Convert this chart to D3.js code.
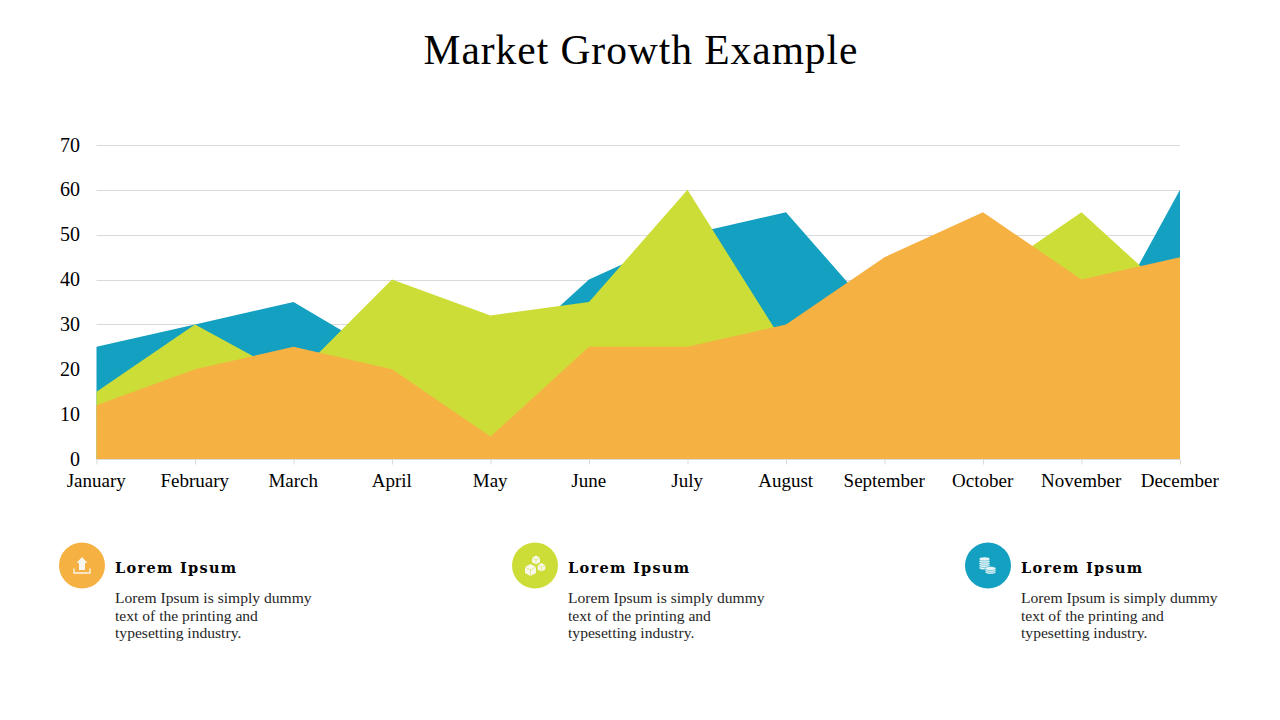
<!DOCTYPE html>
<html>
<head>
<meta charset="utf-8">
<script src="https://cdn.jsdelivr.net/npm/d3@7"></script>
<style>
  html, body { margin: 0; background: #fff; }
  text { font-family: "Liberation Serif", serif; }
</style>
</head>
<body>
<div id="chart"></div>
<script>
const months = ['January', 'February', 'March', 'April', 'May', 'June', 'July', 'August', 'September', 'October', 'November', 'December']
const blueValues = [25, 30, 35, 22, 20, 40, 50, 55, 30, 25, 20, 60]
const greenValues = [15, 30, 18, 40, 32, 35, 60, 25, 30, 40, 55, 35]
const orangeValues = [12, 20, 25, 20, 5, 25, 25, 30, 45, 55, 40, 45]
const yTicks = [0, 10, 20, 30, 40, 50, 60, 70]
const noteTitles = ['Lorem Ipsum', 'Lorem Ipsum', 'Lorem Ipsum']
const noteLines = ['Lorem Ipsum is simply dummy', 'text of the printing and', 'typesetting industry.']

const BLUE = '#14a0c1'
const GREEN = '#cddd38'
const ORANGE = '#f5b142'

const svg = d3.select('#chart').append('svg')
  .attr('width', 1280)
  .attr('height', 720)
  .style('display', 'block')

svg.append('text')
  .attr('x', 641)
  .attr('y', 64)
  .attr('text-anchor', 'middle')
  .attr('font-size', 41.5)
  .attr('letter-spacing', 0.95)
  .attr('fill', '#000')
  .text('Market Growth Example')

const x = d3.scalePoint().domain(months).range([96.5, 1180])
const y = d3.scaleLinear().domain([0, 70]).range([459, 145])

// gridlines
svg.append('g').selectAll('line')
  .data(yTicks)
  .join('line')
  .attr('x1', x.range()[0])
  .attr('x2', x.range()[1])
  .attr('y1', d => Math.round(y(d)) + 0.5)
  .attr('y2', d => Math.round(y(d)) + 0.5)
  .attr('stroke', '#d9d9d9')
  .attr('stroke-width', 1)

const area = d3.area()
  .x((d, i) => x(months[i]))
  .y0(y(0))
  .y1(d => y(d))

// back to front
;[[blueValues, BLUE], [greenValues, GREEN], [orangeValues, ORANGE]].forEach(([values, color]) => {
  svg.append('path').datum(values).attr('d', area).attr('fill', color)
})

const xAxis = svg.append('g')
  .attr('transform', `translate(0,${y(0) + 0.5})`)
  .call(d3.axisBottom(x).tickSize(5).tickPadding(9))
xAxis.select('.domain').attr('stroke', '#d9d9d9').attr('d', `M${x.range()[0]},0H${x.range()[1]}`)
xAxis.selectAll('.tick line').attr('stroke', '#d9d9d9')
xAxis.selectAll('text')
  .attr('dx', -0.8)
  .attr('font-size', 19)
  .attr('fill', '#000')
  .style('font-family', '"Liberation Serif", serif')

svg.append('g').selectAll('text')
  .data(yTicks)
  .join('text')
  .attr('x', 80)
  .attr('y', d => y(d) + 6.5)
  .attr('text-anchor', 'end')
  .attr('font-size', 20)
  .attr('fill', '#000')
  .text(d => d)

// white glyphs for the three notes, relative to circle centre
function uploadIcon(g) {
  g.append('path').attr('d', 'M0,-8.5L5.5,-2.5H3V4.5H-3V-2.5H-5.5Z').attr('fill', '#f8f6f0')
  g.append('path').attr('d', 'M-8,3V7.5H8V3').attr('fill', 'none').attr('stroke', '#f8f6f0').attr('stroke-width', 1.3)
}

function cube(g, cx, cy, r, color) {
  const h = r * 0.55
  g.append('path')
    .attr('d', `M${cx - r},${cy - h}L${cx},${cy - 2 * h}L${cx + r},${cy - h}V${cy + h}L${cx},${cy + 2 * h}L${cx - r},${cy + h}Z`)
    .attr('fill', '#f7f8ea')
  g.append('path')
    .attr('d', `M${cx - r},${cy - h}L${cx},${cy}L${cx + r},${cy - h}M${cx},${cy}V${cy + 2 * h}`)
    .attr('fill', 'none')
    .attr('stroke', color)
    .attr('stroke-width', 0.5)
}

function boxesIcon(g) {
  cube(g, 1, -5.5, 4, GREEN)
  cube(g, -4.5, 4.5, 5.5, GREEN)
  cube(g, 6.5, 1.8, 3.8, GREEN)
}

function coin(g, cx, cy, w, h, layers) {
  for (let i = layers - 1; i >= 0; i--) {
    g.append('ellipse')
      .attr('cx', cx)
      .attr('cy', cy + i * h)
      .attr('rx', w)
      .attr('ry', 2)
      .attr('fill', '#e8f4f6')
      .attr('stroke', BLUE)
      .attr('stroke-width', 0.5)
  }
}

function coinsIcon(g) {
  coin(g, -3.5, -6.5, 5.5, 2.2, 5)
  coin(g, 2.5, 3, 5.5, 1.8, 3)
}

const noteColors = [ORANGE, GREEN, BLUE]
const noteIcons = [uploadIcon, boxesIcon, coinsIcon]
const noteX = d3.scalePoint().domain(d3.range(3)).range([82, 988])

const notes = svg.append('g').selectAll('g')
  .data(noteTitles)
  .join('g')
  .attr('transform', (d, i) => `translate(${noteX(i)},565.5)`)

notes.append('circle')
  .attr('r', 23)
  .attr('fill', (d, i) => noteColors[i])

notes.each(function(d, i) {
  noteIcons[i](d3.select(this).append('g'))
})

notes.append('text')
  .attr('x', 33)
  .attr('y', 7)
  .attr('font-size', 14.5)
  .attr('font-weight', 'bold')
  .attr('letter-spacing', 1.3)
  .attr('fill', '#000')
  .style('font-family', '"DejaVu Serif", serif')
  .text(d => d)

notes.selectAll('text.line')
  .data(noteLines)
  .join('text')
  .attr('class', 'line')
  .attr('x', 33)
  .attr('y', (d, i) => 37.5 + i * 17.6)
  .attr('font-size', 15.6)
  .attr('fill', '#262626')
  .text(d => d)
</script>
</body>
</html>
